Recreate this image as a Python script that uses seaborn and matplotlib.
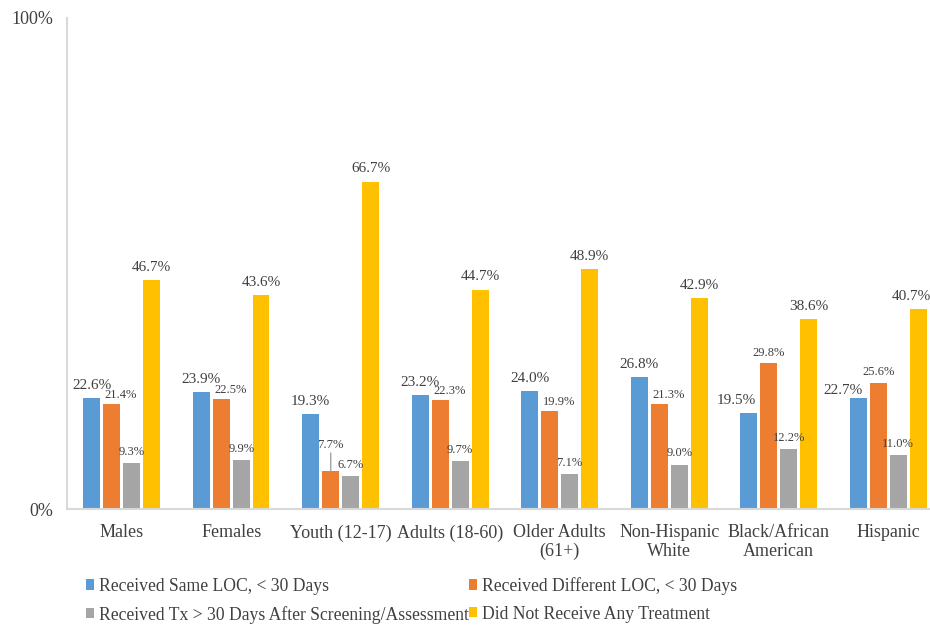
import matplotlib
matplotlib.use("Agg")
import matplotlib.pyplot as plt
from matplotlib.patches import Patch
import seaborn as sns
import pandas as pd

# Share of each group by treatment outcome (%)
groups = ["Males", "Females", "Youth (12-17)", "Adults (18-60)", "Older Adults\n(61+)",
          "Non-Hispanic\nWhite", "Black/African\nAmerican", "Hispanic"]
series = ["Received Same LOC, < 30 Days",
          "Received Different LOC, < 30 Days",
          "Received Tx > 30 Days After Screening/Assessment",
          "Did Not Receive Any Treatment"]
same_loc = [22.6, 23.9, 19.3, 23.2, 24.0, 26.8, 19.5, 22.7]
diff_loc = [21.4, 22.5, 7.7, 22.3, 19.9, 21.3, 29.8, 25.6]
late_tx = [9.3, 9.9, 6.7, 9.7, 7.1, 9.0, 12.2, 11.0]
no_tx = [46.7, 43.6, 66.7, 44.7, 48.9, 42.9, 38.6, 40.7]
colors = ["#5B9BD5", "#ED7D31", "#A5A5A5", "#FFC000"]

values = [same_loc, diff_loc, late_tx, no_tx]
df = pd.DataFrame([
    {"group": g, "series": s, "pct": v}
    for s, vals in zip(series, values)
    for g, v in zip(groups, vals)
])

sns.set_theme(style="white")
plt.rcParams["font.family"] = ["Liberation Serif", "DejaVu Serif"]
text_color = "#404040"

fig = plt.figure(figsize=(9.3, 6.25), dpi=100)
ax = fig.add_axes([0.072, 0.1856, 0.942, 0.7856])

sns.barplot(data=df, x="group", y="pct", hue="series", hue_order=series,
            order=groups, palette=colors, width=0.73, saturation=1,
            linewidth=0, legend=False, ax=ax)

# narrow each bar inside its slot to leave a thin gap between neighbours
for cont in ax.containers:
    for bar in cont:
        w = bar.get_width()
        nw = w * 0.83
        bar.set_x(bar.get_x() + (w - nw) / 2)
        bar.set_width(nw)

ax.set_xlim(-0.5, len(groups) - 0.5)
ax.set_ylim(0, 100)
ax.set_yticks([0, 100])
ax.set_yticklabels(["0%", "100%"])
ax.set_xlabel("")
ax.set_ylabel("")
ax.tick_params(axis="y", length=0, pad=10, labelsize=13, labelcolor=text_color)
ax.tick_params(axis="x", length=0, pad=11, labelsize=13, labelcolor=text_color)
for lbl in ax.get_xticklabels():
    lbl.set_linespacing(1.1)
    lbl.set_verticalalignment("top")
for side in ["top", "right"]:
    ax.spines[side].set_visible(False)
for side in ["left", "bottom"]:
    ax.spines[side].set_color("#D9D9D9")
    ax.spines[side].set_linewidth(1.5)
ax.grid(False)

# value labels: per-series font size and offsets (points)
sizes = [11, 9, 9, 11]
default_off = [(0, 6.5), (6.5, 4.3), (0, 6.0), (0, 6.5)]
special_off = {
    (0, 6): (-9, 7),      # Black/African American, same LOC
    (0, 7): (-11, 2.5),   # Hispanic, same LOC
    (1, 6): (0, 5),
    (1, 7): (0, 6),
    (3, 7): (-5, 6.5),
}
for i, cont in enumerate(ax.containers):
    for j, bar in enumerate(cont):
        val = values[i][j]
        cx = bar.get_x() + bar.get_width() / 2
        label = f"{val:.1f}%"
        if (i, j) == (1, 2):
            # small bar: lift the label and tie it back with a leader line
            ax.annotate(label, xy=(cx, val), xytext=(0, 16.5),
                        textcoords="offset points", ha="center", va="baseline",
                        fontsize=sizes[i], color=text_color)
            ax.annotate("", xy=(cx, val), xytext=(0, 13),
                        textcoords="offset points",
                        arrowprops=dict(arrowstyle="-", color="#A0A0A0", lw=1,
                                        shrinkA=0, shrinkB=0))
            continue
        dx, dy = special_off.get((i, j), default_off[i])
        ax.annotate(label, xy=(cx, val), xytext=(dx, dy),
                    textcoords="offset points", ha="center", va="baseline",
                    fontsize=sizes[i], color=text_color)

# legend in two columns below the axis labels
handles = [Patch(facecolor=c, edgecolor="none") for c in colors]
order = [0, 2, 1, 3]
fig.legend([handles[k] for k in order], [series[k] for k in order],
           loc="upper left", bbox_to_anchor=(0.092, 0.077), ncol=2,
           frameon=False, fontsize=12.7, labelcolor=text_color,
           handlelength=0.5, handleheight=0.5, handletextpad=0.25,
           columnspacing=0.0, labelspacing=0.62, borderaxespad=0, borderpad=0)

fig.savefig("out.png", dpi=100, facecolor="white")
